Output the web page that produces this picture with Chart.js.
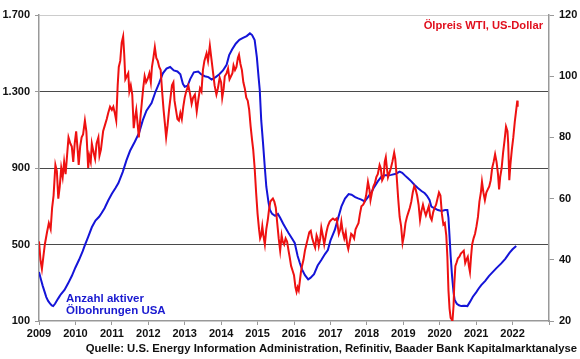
<!DOCTYPE html>
<html>
<head>
<meta charset="utf-8">
<script src="https://cdn.jsdelivr.net/npm/chart.js@4.4.1/dist/chart.umd.min.js"></script>
<style>
html,body{margin:0;padding:0;background:#fff;}
canvas{display:block;}
</style>
</head>
<body>
<canvas id="c" width="580" height="359"></canvas>
<script>
// ---- Data ----
const oilDates = [2009.00,2009.04,2009.08,2009.12,2009.16,2009.22,2009.27,2009.32,2009.36,2009.40,2009.45,2009.49,2009.53,2009.57,2009.61,2009.65,2009.69,2009.73,2009.77,2009.81,2009.86,2009.90,2009.94,2009.98,
2010.02,2010.06,2010.09,2010.13,2010.17,2010.21,2010.26,2010.30,2010.35,2010.38,2010.42,2010.45,2010.50,2010.54,2010.58,2010.63,2010.66,2010.70,2010.76,2010.81,2010.86,2010.90,2010.95,
2011.00,2011.04,2011.08,2011.12,2011.16,2011.19,2011.23,2011.27,2011.31,2011.34,2011.37,2011.41,2011.45,2011.48,2011.52,2011.56,2011.60,2011.63,2011.67,2011.71,2011.74,2011.78,2011.82,2011.86,2011.90,2011.94,2011.98,
2012.03,2012.07,2012.10,2012.14,2012.18,2012.22,2012.26,2012.30,2012.34,2012.38,2012.42,2012.46,2012.49,2012.53,2012.57,2012.61,2012.65,2012.69,2012.72,2012.76,2012.80,2012.84,2012.88,2012.92,2012.96,
2013.00,2013.04,2013.10,2013.15,2013.19,2013.23,2013.28,2013.33,2013.37,2013.42,2013.46,2013.50,2013.54,2013.60,2013.64,2013.69,2013.73,2013.78,2013.82,2013.87,2013.91,2013.96,
2014.00,2014.03,2014.07,2014.10,2014.15,2014.19,2014.23,2014.27,2014.31,2014.34,2014.38,2014.42,2014.46,2014.49,2014.53,2014.57,2014.61,2014.65,2014.69,2014.73,2014.77,2014.81,2014.85,2014.88,2014.92,2014.96,
2015.00,2015.04,2015.07,2015.10,2015.13,2015.16,2015.20,2015.24,2015.28,2015.31,2015.35,2015.38,2015.42,2015.46,2015.50,2015.54,2015.58,2015.62,2015.66,2015.69,2015.73,2015.77,2015.81,2015.85,2015.88,2015.92,2015.96,
2016.00,2016.04,2016.07,2016.10,2016.13,2016.16,2016.19,2016.22,2016.26,2016.30,2016.34,2016.38,2016.42,2016.46,2016.50,2016.55,2016.58,2016.62,2016.65,2016.68,2016.72,2016.75,2016.79,2016.83,2016.86,2016.89,2016.93,2016.98,
2017.02,2017.07,2017.12,2017.17,2017.20,2017.23,2017.27,2017.30,2017.34,2017.38,2017.42,2017.46,2017.49,2017.53,2017.57,2017.61,2017.65,2017.69,2017.73,2017.77,2017.81,2017.85,2017.90,2017.94,2017.98,
2018.03,2018.07,2018.10,2018.14,2018.18,2018.22,2018.26,2018.30,2018.35,2018.38,2018.42,2018.46,2018.49,2018.52,2018.55,2018.58,2018.62,2018.66,2018.70,2018.75,2018.78,2018.82,2018.86,2018.90,2018.94,2018.98,
2019.02,2019.06,2019.10,2019.14,2019.18,2019.22,2019.26,2019.30,2019.34,2019.38,2019.42,2019.46,2019.50,2019.54,2019.58,2019.62,2019.66,2019.70,2019.74,2019.78,2019.82,2019.86,2019.90,2019.94,2019.98,
2020.02,2020.06,2020.10,2020.14,2020.18,2020.21,2020.24,2020.27,2020.30,2020.33,2020.35,2020.38,2020.40,2020.43,2020.46,2020.50,2020.54,2020.58,2020.62,2020.66,2020.70,2020.73,2020.77,2020.80,2020.83,2020.86,2020.89,2020.93,2020.97,
2021.01,2021.05,2021.09,2021.13,2021.16,2021.20,2021.24,2021.28,2021.32,2021.36,2021.40,2021.44,2021.48,2021.52,2021.56,2021.60,2021.63,2021.66,2021.70,2021.74,2021.78,2021.82,2021.86,2021.88,2021.91,2021.94,2021.98,
2022.02,2022.06,2022.10,2022.13,2022.14];

const oilPrices = [46,40,37,41,45,49,52,50,57,61,71,69,60,64,70,67,72,68,74,80,78,77,72,78,
82,76,71,77,80,81,85.5,82,70,74,72,78,75,73,78,80,74,76,82,84,86,88,90,
89,90,88,85.5,97,103,105,111,113,107,99,100,101,95,97,94,83,86,89,84,80,86,91,96,100,98,99,
101,98,103,106,109.5,106,105,103,102,95,89,84,80,84,89,93,97,98,92,89,86,85.5,88,86,90,
93,95,97,94,91,93,94,88.5,92,96,95,102,105,107.5,105,110,106,101,97,94,96,99.5,
98,93,96,100,101,102.5,99,100,101,103.5,102,103,106,107,104,102,98,96,93,92,89,83.5,79,76,70,62,
55,50,47,48,51,48,45,50,53,56,59,59.5,60,59,57,52,47,43,48,46,45,47,46,43,41,38,36.5,
35,31,29.5,31,30,33,36,38,40,43,45,47,49,49.5,47,45,44,48,47,44.5,47,50.5,48,45,47,49,51,52.5,
53,53.5,53,53.5,51,48.5,50,52.5,49,47,49,45,43.5,46,48.5,48,47,50,51,52,55,57.5,58,59,61,
65.5,63,59.5,62,64,65,67,68,71,70,66,67,72,73.5,70,67,68.5,70,72,75,73,67,60,54,51,45.5,
48,52,54,55.5,57,59,62,64,63,61,58,53,56,58,56,54.5,56,57.5,54,53,55.5,57,58,60,62,
61,55,51.5,52,48,41,30,24,21,20.5,20,25,32,38,39,40.5,41,42,42.5,43,39,40,41,38,36,41,45,47,48.5,
51,54,59,62,65.5,62,59.5,62,63,64,66,70,72,74.5,72,68,63,67,70,75,79,83.5,82,78,66,71,76,
80,85,89,92,90];

const rigDates = [2009.00,2009.05,2009.10,2009.15,2009.20,2009.25,2009.30,2009.35,2009.39,2009.44,2009.50,2009.55,2009.60,2009.70,2009.80,2009.90,
2010.00,2010.10,2010.20,2010.26,2010.35,2010.45,2010.55,2010.65,2010.72,2010.80,2010.90,
2011.00,2011.10,2011.18,2011.30,2011.40,2011.50,2011.63,2011.75,2011.85,2011.95,
2012.09,2012.20,2012.30,2012.40,2012.50,2012.60,2012.70,2012.80,2012.88,2012.95,
2013.00,2013.08,2013.15,2013.25,2013.37,2013.45,2013.55,2013.65,2013.74,2013.85,2013.95,
2014.05,2014.15,2014.22,2014.30,2014.40,2014.50,2014.60,2014.70,2014.79,2014.85,2014.92,2014.98,
2015.03,2015.06,2015.10,2015.15,2015.20,2015.24,2015.30,2015.34,2015.40,2015.48,2015.56,2015.62,2015.70,2015.75,2015.85,2015.95,
2016.02,2016.10,2016.16,2016.22,2016.30,2016.39,2016.45,2016.55,2016.65,2016.75,2016.85,2016.93,
2017.00,2017.12,2017.20,2017.30,2017.40,2017.50,2017.58,2017.68,2017.76,2017.85,2017.94,
2018.04,2018.12,2018.20,2018.30,2018.40,2018.50,2018.60,2018.67,2018.80,2018.90,2018.97,
2019.05,2019.13,2019.22,2019.31,2019.40,2019.50,2019.59,2019.65,2019.72,2019.77,2019.85,2019.95,
2020.05,2020.15,2020.21,2020.24,2020.27,2020.30,2020.34,2020.38,2020.41,2020.47,2020.53,2020.59,2020.67,2020.76,2020.83,2020.91,
2021.00,2021.07,2021.14,2021.25,2021.35,2021.42,2021.55,2021.69,2021.80,2021.92,
2022.00,2022.10];

const rigCounts = [356,320,285,255,225,205,192,182,178,190,210,225,240,262,297,335,
380,420,465,497,540,590,625,645,665,690,730,
765,795,821,880,940,990,1037,1085,1150,1200,
1240,1300,1345,1395,1420,1428,1410,1405,1390,1340,
1325,1330,1365,1400,1404,1390,1380,1375,1362,1375,1390,
1410,1440,1490,1520,1550,1570,1580,1590,1604,1595,1569,1480,
1370,1308,1150,1030,900,802,720,680,660,650,660,640,610,593,560,530,
508,440,403,370,340,318,325,345,390,419,450,471,
520,576,630,698,740,764,760,748,741,735,725,
750,771,800,830,855,862,862,864,870,881,875,
860,846,830,811,795,780,768,755,733,698,690,680,
675,680,680,640,541,440,332,250,210,190,182,178,180,178,200,227,
250,270,288,310,335,349,375,401,425,457,
475,492];

const yearTicks = [2009,2010,2011,2012,2013,2014,2015,2016,2017,2018,2019,2020,2021,2022];
const leftTicks = [100,500,900,1300,1700];
const rightTicks = [20,40,60,80,100,120];

const titleOil = 'Ölpreis WTI, US-Dollar';
const titleRigs = ['Anzahl aktiver', 'Ölbohrungen USA'];
const sourceText = 'Quelle: U.S. Energy Information Administration, Refinitiv, Baader Bank Kapitalmarktanalyse';

// ---- Build ----
const RED = '#ee1111';
const BLUE = '#1414d8';
const FONT = '"Liberation Sans", Arial, sans-serif';

function fmtDE(v){
  if (v >= 1000) return Math.floor(v/1000) + '.' + String(v % 1000).padStart(3,'0');
  return String(v);
}

const textPlugin = {
  id: 'texts',
  afterDraw(chart){
    const ctx = chart.ctx;
    ctx.save();
    ctx.textBaseline = 'middle';
    ctx.fillStyle = '#e0101e';
    ctx.font = 'bold 11.2px ' + FONT;
    ctx.textAlign = 'right';
    ctx.fillText(titleOil, 543, 26);
    ctx.fillStyle = '#1a1ad0';
    ctx.font = 'bold 11.5px ' + FONT;
    ctx.textAlign = 'left';
    ctx.fillText(titleRigs[0], 66, 298.5);
    ctx.fillText(titleRigs[1], 66, 311);
    ctx.fillStyle = '#111';
    ctx.font = 'bold 11.3px ' + FONT;
    ctx.textAlign = 'right';
    ctx.fillText(sourceText, 577, 349);
    ctx.restore();
  }
};

new Chart(document.getElementById('c'), {
  type: 'line',
  data: {
    datasets: [
      {
        label: titleOil,
        data: oilDates.map((d,i)=>({x:d, y:oilPrices[i]})),
        yAxisID: 'y2',
        borderColor: RED,
        borderWidth: 2,
        pointRadius: 0,
        tension: 0
      },
      {
        label: titleRigs.join(' '),
        data: rigDates.map((d,i)=>({x:d, y:rigCounts[i]})),
        yAxisID: 'y',
        borderColor: BLUE,
        borderWidth: 2,
        pointRadius: 0,
        tension: 0
      }
    ]
  },
  options: {
    responsive: false,
    animation: false,
    devicePixelRatio: 1,
    layout: { padding: { top: 15, left: 0, right: 0, bottom: 0 } },
    plugins: { legend: { display: false }, tooltip: { enabled: false }, title: { display: false } },
    scales: {
      x: {
        type: 'linear',
        min: 2009, max: 2023,
        afterFit(s){ s.height = 38; },
        afterBuildTicks(s){ s.ticks = yearTicks.concat([2023]).map(v=>({value:v})); },
        ticks: {
          callback: v => (yearTicks.includes(v) ? String(v) : ''),
          font: { family: FONT, size: 11, weight: 'bold' },
          color: '#111',
          padding: 2,
          maxRotation: 0,
          autoSkip: false
        },
        grid: { display: true, drawOnChartArea: false, drawTicks: true, tickLength: 4, color: '#999', tickColor: '#999' },
        border: { display: true, color: '#999', width: 1.5 }
      },
      y: {
        position: 'left',
        min: 100, max: 1700,
        afterFit(s){ s.width = 39; },
        afterBuildTicks(s){ s.ticks = leftTicks.map(v=>({value:v})); },
        ticks: {
          callback: v => fmtDE(v),
          font: { family: FONT, size: 11, weight: 'bold' },
          color: '#111',
          padding: 5
        },
        grid: {
          color: c => (c.tick && c.tick.value === 1700) ? '#cccccc' : (c.tick && c.tick.value === 100 ? 'rgba(0,0,0,0)' : '#4a4a4a'),
          tickColor: '#999',
          tickLength: 4,
          lineWidth: 1
        },
        border: { display: true, color: '#999', width: 1.5 }
      },
      y2: {
        position: 'right',
        min: 20, max: 120,
        afterFit(s){ s.width = 31; },
        afterBuildTicks(s){ s.ticks = rightTicks.map(v=>({value:v})); },
        ticks: {
          callback: v => String(v),
          font: { family: FONT, size: 11, weight: 'bold' },
          color: '#111',
          padding: 5
        },
        grid: { drawOnChartArea: false, tickLength: 5, color: '#999', tickColor: '#999' },
        border: { display: true, color: '#999', width: 1.5 }
      }
    }
  },
  plugins: [textPlugin]
});
</script>
</body>
</html>
